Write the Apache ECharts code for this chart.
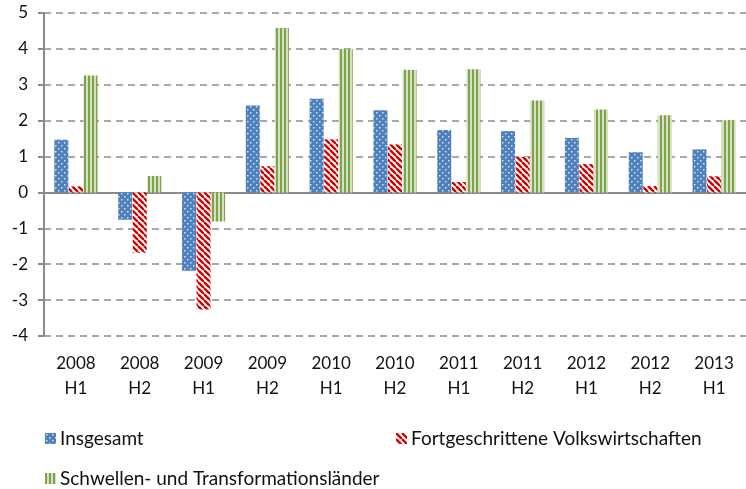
<!DOCTYPE html>
<html>
<head>
<meta charset="utf-8">
<script src="https://cdn.jsdelivr.net/npm/echarts@6/dist/echarts.min.js"></script>
<style>
  html, body { margin: 0; padding: 0; background: #fff; }
  #chart { width: 746px; height: 489px; }
</style>
</head>
<body>
<div id="chart"></div>
<script>
const categories = ['2008\nH1', '2008\nH2', '2009\nH1', '2009\nH2', '2010\nH1', '2010\nH2',
  '2011\nH1', '2011\nH2', '2012\nH1', '2012\nH2', '2013\nH1']
const insgesamt = [1.47, -0.76, -2.18, 2.42, 2.61, 2.29, 1.74, 1.71, 1.52, 1.12, 1.2]
const fortgeschritten = [0.17, -1.68, -3.26, 0.73, 1.48, 1.34, 0.29, 0.99, 0.79, 0.18, 0.45]
const schwellen = [3.26, 0.46, -0.81, 4.58, 4.0, 3.42, 3.43, 2.56, 2.31, 2.15, 2.01]
const seriesNames = ['Insgesamt', 'Fortgeschrittene Volkswirtschaften', 'Schwellen- und Transformationsländer']

// pattern tiles
function tile(w, h, draw) {
  const c = document.createElement('canvas')
  c.width = w
  c.height = h
  draw(c.getContext('2d'))
  return { image: c, repeat: 'repeat' }
}

const dotFill = tile(6, 6, ctx => {
  ctx.fillStyle = '#4f81bd'
  ctx.fillRect(0, 0, 6, 6)
  ctx.fillStyle = '#d4e1f2'
  ctx.fillRect(1, 1, 1.5, 1.5)
  ctx.fillRect(4, 4, 1.5, 1.5)
})

const stripeFill = tile(6, 6, ctx => {
  ctx.fillStyle = '#ffffff'
  ctx.fillRect(0, 0, 6, 6)
  ctx.strokeStyle = '#d40000'
  ctx.lineWidth = 2.4
  for (const k of [-6, 0, 6]) {
    ctx.beginPath()
    ctx.moveTo(k, 0)
    ctx.lineTo(k + 6, 6)
    ctx.stroke()
  }
})

const lineFill = tile(4, 4, ctx => {
  ctx.fillStyle = '#d3e2bf'
  ctx.fillRect(0, 0, 4, 4)
  ctx.fillStyle = '#7ea34c'
  ctx.fillRect(0, 0, 2, 4)
})

const fills = [dotFill, stripeFill, lineFill]
const values = [insgesamt, fortgeschritten, schwellen]

const grey = '#8a8a8a'
const chart = echarts.init(document.getElementById('chart'), null, { renderer: 'canvas' })

const legendBase = {
  icon: 'rect',
  itemWidth: 11,
  itemHeight: 11,
  padding: 0,
  itemGap: 0,
  textStyle: { fontFamily: 'Lato', fontSize: 19, color: '#111', padding: [0, 0, 0, -1] }
}

chart.setOption({
  backgroundColor: '#fff',
  animation: false,
  grid: { left: 44, top: 13, width: 710, height: 323 },
  legend: [
    Object.assign({ left: 45, top: 429, data: [seriesNames[0]] }, legendBase),
    Object.assign({ left: 396, top: 429, data: [seriesNames[1]] }, legendBase),
    Object.assign({ left: 45, top: 469, data: [seriesNames[2]] }, legendBase)
  ],
  xAxis: [{
    type: 'category',
    data: categories,
    axisLine: { onZero: true, lineStyle: { color: grey, width: 2 } },
    axisTick: { length: 6, lineStyle: { color: grey, width: 2 } },
    axisLabel: { show: false }
  }, {
    type: 'category',
    data: categories,
    position: 'bottom',
    axisLine: { show: false, onZero: false },
    axisTick: { show: false },
    axisLabel: {
      margin: 15,
      fontFamily: 'Lato',
      fontSize: 17,
      lineHeight: 25,
      color: '#111'
    }
  }],
  yAxis: {
    type: 'value',
    min: -4,
    max: 5,
    interval: 1,
    axisLine: { show: true, lineStyle: { color: grey, width: 2 } },
    axisTick: { show: true, length: 6, lineStyle: { color: grey, width: 2 } },
    axisLabel: { margin: 16, fontFamily: 'Lato', fontSize: 17, color: '#111' },
    splitLine: { lineStyle: { color: grey, width: 1.5, type: [7, 5] } }
  },
  series: seriesNames.map((name, i) => ({
    name,
    type: 'bar',
    xAxisIndex: 0,
    data: values[i],
    barWidth: 14,
    barGap: '4%',
    itemStyle: { color: fills[i] }
  }))
})
</script>
</body>
</html>
